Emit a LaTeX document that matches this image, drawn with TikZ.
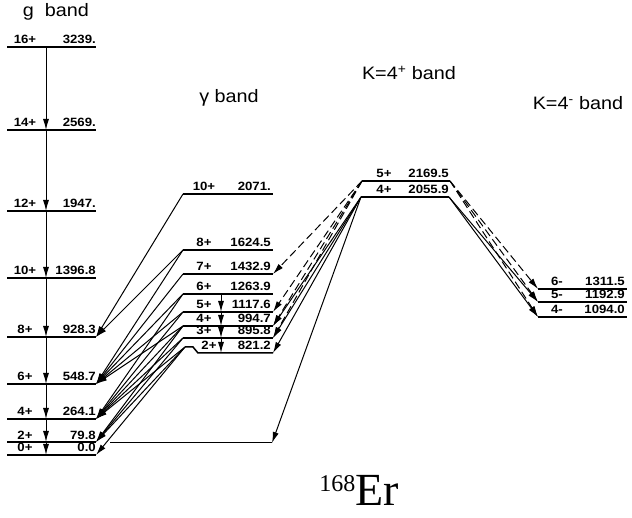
\documentclass[tikz,border=0pt]{standalone}
\usepackage{fontspec}
\setmainfont{Liberation Sans}
\newfontfamily\lblfont[FakeStretch=1.1]{Liberation Sans}
\newfontfamily\erfont{Liberation Serif}
\usetikzlibrary{arrows.meta}

\tikzset{
  level/.style={line width=1.5pt},
  trans/.style={line width=1pt, -{Latex[length=11pt,width=6pt]}},
  weak/.style={trans, dash pattern=on 8pt off 4pt},
  spin/.style={font=\lblfont\bfseries\fontsize{12}{13}\selectfont, anchor=base, inner sep=0pt},
  energy/.style={font=\lblfont\bfseries\fontsize{12}{13}\selectfont, anchor=base east, inner sep=0pt},
  title/.style={font=\lblfont\fontsize{18}{20}\selectfont}
}

\begin{document}
\begin{tikzpicture}[x=1pt,y=-1pt]
  \useasboundingbox (0,0) rectangle (632,518);

  % band titles
  \node[title] (gtitle) at (56,12) {g\ \ band};
  \node[title] (gatitle) at (229,98) {γ band};
  \node[title] (kptitle) at (409,73) {K=4\textsuperscript{+} band};
  \node[title] (kmtitle) at (578,103) {K=4\textsuperscript{-} band};
  \node[font=\erfont\fontsize{46}{48}\selectfont, anchor=base] (nucl) at (359,505)
    {\raisebox{14pt}{\fontsize{24}{24}\selectfont 168}Er};

  % ground band
  \foreach \n/\y/\en in {16/47/3239., 14/130/2569., 12/211/1947., 10/278/1396.8,
      8/337/928.3, 6/384/548.7, 4/419/264.1, 2/442/79.8, 0/455/0.0} {
    \draw[level] (7,\y) -- (96,\y);
    \node[spin] at (25,\y-3) {\n+};
    \node[energy] at (96,\y-3) {\en};
    \coordinate (g\n) at (96,\y);
    \coordinate (gc\n) at (46,\y);
  }
  \draw[line width=1pt] (110,443) -- (272,443);
  \coordinate (g2x) at (272,443);

  % gamma band
  \foreach \n/\y/\en in {10/194/2071., 8/250/1624.5, 7/274/1432.9, 6/294/1263.9,
      5/312/1117.6, 4/326/994.7, 3/338/895.8} {
    \draw[level] (183,\y) -- (273,\y);
    \node[spin] at (204,\y-3) {\n+};
    \node[energy] at (271,\y-3) {\en};
    \coordinate (gaL\n) at (183,\y);
    \coordinate (gaR\n) at (273,\y);
    \coordinate (gaC\n) at (221,\y);
  }
  \draw[level] (185,347) -- (193,347) -- (198,353) -- (273,353);
  \node[spin] at (209,350) {2+};
  \node[energy] at (271,350) {821.2};
  \coordinate (gaL2) at (185,347);
  \coordinate (gaR2) at (273,353);
  \coordinate (gaC2) at (221,353);

  % K=4+ band
  \draw[level] (362,181) -- (450,181);
  \node[spin] at (384,178) {5+};
  \node[energy] at (449,178) {2169.5};
  \draw[level] (361,197) -- (449,197);
  \node[spin] at (384,194) {4+};
  \node[energy] at (449,194) {2055.9};
  \coordinate (k5L) at (362,181);
  \coordinate (k5R) at (450,181);
  \coordinate (k4L) at (361,197);
  \coordinate (k4R) at (449,197);

  % K=4- band
  \foreach \n/\y/\en in {6/289/1311.5, 5/302/1192.9, 4/317/1094.0} {
    \draw[level] (538,\y) -- (627,\y);
    \node[spin] at (557,\y-3) {\n-};
    \node[energy] at (625,\y-3) {\en};
    \coordinate (m\n) at (538,\y);
  }

  % in-band cascades
  \foreach \a/\b in {16/14, 14/12, 12/10, 10/8, 8/6, 6/4, 4/2, 2/0}
    \draw[trans] (gc\a) -- (gc\b);
  \foreach \a/\b in {6/5, 5/4, 4/3, 3/2}
    \draw[trans] (gaC\a) -- (gaC\b);

  % gamma -> g
  \foreach \a/\b in {10/8, 8/8, 8/6, 7/6, 6/6, 6/4, 5/6, 5/4, 4/6, 4/4, 4/2,
      3/4, 3/2, 2/4, 2/2, 2/0}
    \draw[trans] (gaL\a) -- (g\b);

  % K=4+ -> gamma
  \foreach \b in {7, 5, 4, 3}
    \draw[weak] (k5L) -- (gaR\b);
  \foreach \b in {4, 3, 2}
    \draw[trans] (k4L) -- (gaR\b);
  \draw[trans] (k4L) -- (g2x);

  % K=4+ -> K=4-
  \foreach \b in {6, 5, 4}
    \draw[weak] (k5R) -- (m\b);
  \foreach \b in {5, 4}
    \draw[trans] (k4R) -- (m\b);
\end{tikzpicture}
\end{document}
